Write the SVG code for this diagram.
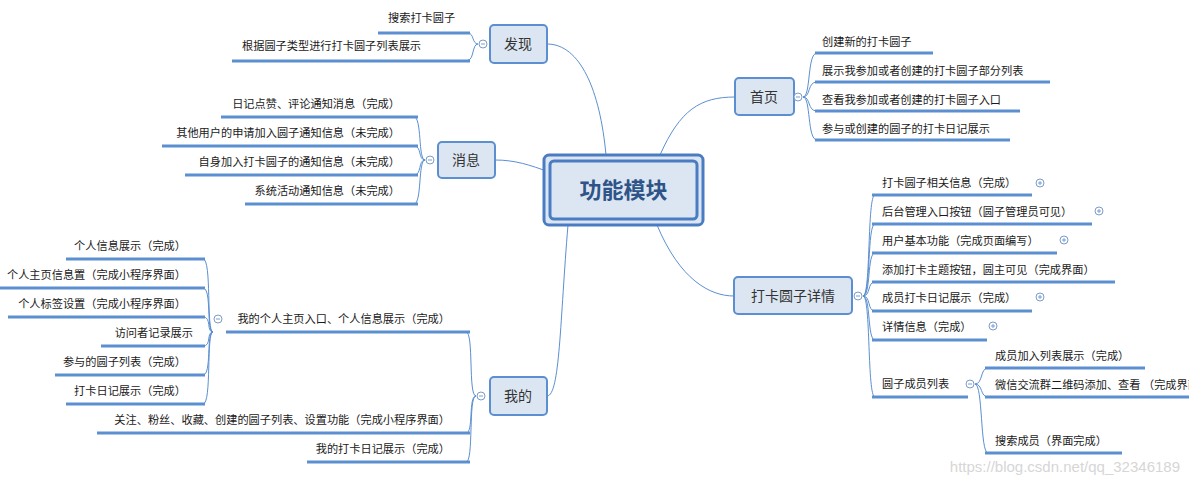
<svg xmlns="http://www.w3.org/2000/svg" width="1189" height="486" viewBox="0 0 1189 486">
<style>
text{font-family:"Noto Sans CJK SC","Liberation Sans",sans-serif;fill:#1a1a1a;font-size:11.2px}
.ul{stroke:#5b8fd0;stroke-width:3;fill:none}
.c{stroke:#5b8fd0;stroke-width:1;fill:none}
.box{fill:#dce6f2;stroke:#5b8fd0;stroke-width:2}
.n{font-size:14px;fill:#333;text-anchor:middle}
.tg{fill:#fff;stroke:#7a9ccc;stroke-width:1}
.tgl{stroke:#7a9ccc;stroke-width:1}
.r{text-anchor:end}
</style>
<rect width="1189" height="486" fill="#fff"/>
<g id="connectors">
<path class="c" d="M606,155 C600,90 580,44 547,44"/>
<path class="c" d="M549,172 C530,165 515,160 495,160"/>
<path class="c" d="M568,225 C560,320 560,396 547,396"/>
<path class="c" d="M660,155 C680,110 700,97 735,97"/>
<path class="c" d="M657,225 C680,280 710,296 734,296"/>
<path class="c" d="M478,44 C472,44 474,33 468,33 M478,44 C472,44 474,60 468,60"/>
<path class="c" d="M425,160 C418,160 422,117 414,117 M425,160 C418,160 422,146 414,146 M425,160 C418,160 422,175 414,175 M425,160 C418,160 422,204 414,204"/>
<path class="c" d="M476,396 C468,396 474,332 466,332 M476,396 C468,396 474,433 466,433 M476,396 C468,396 474,462 466,462"/>
<path class="c" d="M213,332 C206,332 212,259 203,259 M213,332 C206,332 212,288 203,288 M213,332 C206,332 212,317 203,317 M213,332 C206,332 212,346 203,346 M213,332 C206,332 212,375 203,375 M213,332 C206,332 212,404 203,404"/>
<path class="c" d="M803,97 C811,97 807,53 817,53 M803,97 C811,97 807,82 817,82 M803,97 C811,97 807,111 817,111 M803,97 C811,97 807,140 817,140"/>
<path class="c" d="M863,296 C871,296 867,195 875,195 M863,296 C871,296 867,224 875,224 M863,296 C871,296 867,253 875,253 M863,296 C871,296 867,282 875,282 M863,296 C871,296 867,311 875,311 M863,296 C871,296 867,340 875,340 M863,296 C871,296 867,397 875,397"/>
<path class="c" d="M975,384 C983,384 980,368 988,368 M975,384 C983,384 980,397 988,397 M975,384 C983,384 980,453 988,453"/>
</g>
<g id="center">
<rect x="544" y="155" width="159" height="70" rx="5" fill="#dce6f2" stroke="#4a7cc2" stroke-width="3"/>
<rect x="550" y="161" width="147" height="58" rx="4" fill="#dce6f2" stroke="#4a7cc2" stroke-width="3"/>
<text x="623.5" y="198" style="font-size:22px;font-weight:bold;fill:#2e5488;text-anchor:middle">功能模块</text>
</g>
<g id="faxian">
<rect class="box" x="490" y="25" width="57" height="38" rx="4"/><text class="n" x="518" y="49">发现</text>
<circle class="tg" cx="483" cy="44" r="4"/><line class="tgl" x1="481" y1="44" x2="485" y2="44"/>
<path class="ul" d="M378,33H470M232,61H470"/>
<text x="388" y="22">搜索打卡圆子</text><text x="242" y="50">根据圆子类型进行打卡圆子列表展示</text>
</g>
<g id="xiaoxi">
<rect class="box" x="438" y="142" width="57" height="36" rx="4"/><text class="n" x="466" y="165">消息</text>
<circle class="tg" cx="430" cy="160" r="4"/><line class="tgl" x1="428" y1="160" x2="432" y2="160"/>
<path class="ul" d="M221,117H418M162,146H418M185,175H418M245,204H418"/>
<text class="r" x="400" y="108">日记点赞、评论通知消息（完成）</text><text class="r" x="400" y="137">其他用户的申请加入圆子通知信息（未完成）</text><text class="r" x="400" y="166">自身加入打卡圆子的通知信息（未完成）</text><text class="r" x="400" y="195">系统活动通知信息（未完成）</text>
</g>
<g id="wode">
<rect class="box" x="490" y="377" width="57" height="38" rx="4"/><text class="n" x="518" y="401">我的</text>
<circle class="tg" cx="481" cy="396" r="4"/><line class="tgl" x1="479" y1="396" x2="483" y2="396"/>
<circle class="tg" cx="218" cy="319" r="4"/><line class="tgl" x1="216" y1="319" x2="220" y2="319"/>
<path class="ul" d="M226,332H470M97,433H470M307,462H470"/>
<path class="ul" d="M66,259H205M0,288H205M8,317H205M101,346H205M55,375H205M66,404H205"/>
<text class="r" x="450" y="323">我的个人主页入口、个人信息展示（完成）</text>
<text class="r" x="450" y="424">关注、粉丝、收藏、创建的圆子列表、设置功能（完成小程序界面）</text>
<text class="r" x="450" y="453">我的打卡日记展示（完成）</text>
<text class="r" x="186" y="250">个人信息展示（完成）</text>
<text class="r" x="186" y="279">个人主页信息置（完成小程序界面）</text>
<text class="r" x="186" y="308">个人标签设置（完成小程序界面）</text>
<text class="r" x="193" y="337">访问者记录展示</text>
<text class="r" x="186" y="366">参与的圆子列表（完成）</text>
<text class="r" x="186" y="395">打卡日记展示（完成）</text>
</g>
<g id="shouye">
<rect class="box" x="735" y="78" width="59" height="37" rx="4"/><text class="n" x="764" y="102">首页</text>
<circle class="tg" cx="798" cy="97" r="4"/><line class="tgl" x1="796" y1="97" x2="800" y2="97"/>
<path class="ul" d="M815,53H933M815,82H1050M815,111H1020M815,140H1010"/>
<text x="822" y="46">创建新的打卡圆子</text><text x="822" y="75">展示我参加或者创建的打卡圆子部分列表</text><text x="822" y="104">查看我参加或者创建的打卡圆子入口</text><text x="822" y="133">参与或创建的圆子的打卡日记展示</text>
</g>
<g id="xiangqing">
<rect class="box" x="734" y="277" width="118" height="37" rx="4"/><text class="n" x="793" y="301">打卡圆子详情</text>
<circle class="tg" cx="858" cy="296" r="4"/><line class="tgl" x1="856" y1="296" x2="860" y2="296"/>
<path class="ul" d="M872,195H1032M872,224H1092M872,253H1057M872,282H1115M872,311H1032M872,340H987M872,397H968"/>
<text x="882" y="187">打卡圆子相关信息（完成）</text>
<text x="882" y="216">后台管理入口按钮（圆子管理员可见）</text>
<text x="882" y="245">用户基本功能（完成页面编写）</text>
<text x="882" y="274">添加打卡主题按钮，圆主可见（完成界面）</text>
<text x="882" y="302">成员打卡日记展示（完成）</text>
<text x="882" y="331">详情信息（完成）</text>
<text x="882" y="388">圆子成员列表</text>
<circle class="tg" cx="1040" cy="183" r="4"/><path class="tgl" d="M1038,183h4M1040,181v4"/>
<circle class="tg" cx="1099" cy="211" r="4"/><path class="tgl" d="M1097,211h4M1099,209v4"/>
<circle class="tg" cx="1064" cy="240" r="4"/><path class="tgl" d="M1062,240h4M1064,238v4"/>
<circle class="tg" cx="1040" cy="297" r="4"/><path class="tgl" d="M1038,297h4M1040,295v4"/>
<circle class="tg" cx="993" cy="326" r="4"/><path class="tgl" d="M991,326h4M993,324v4"/>
<circle class="tg" cx="970" cy="384" r="4"/><line class="tgl" x1="968" y1="384" x2="972" y2="384"/>
<path class="ul" d="M985,368H1145M985,397H1189M985,453H1122"/>
<text x="995" y="360">成员加入列表展示（完成）</text>
<text x="995" y="389">微信交流群二维码添加、查看 （完成界面）</text>
<text x="995" y="445">搜索成员（界面完成）</text>
</g>
<text x="1180" y="472" style="font-size:15px;fill:#d6d6d6;text-anchor:end;font-family:'Liberation Sans',sans-serif">https://blog.csdn.net/qq_32346189</text>
</svg>
